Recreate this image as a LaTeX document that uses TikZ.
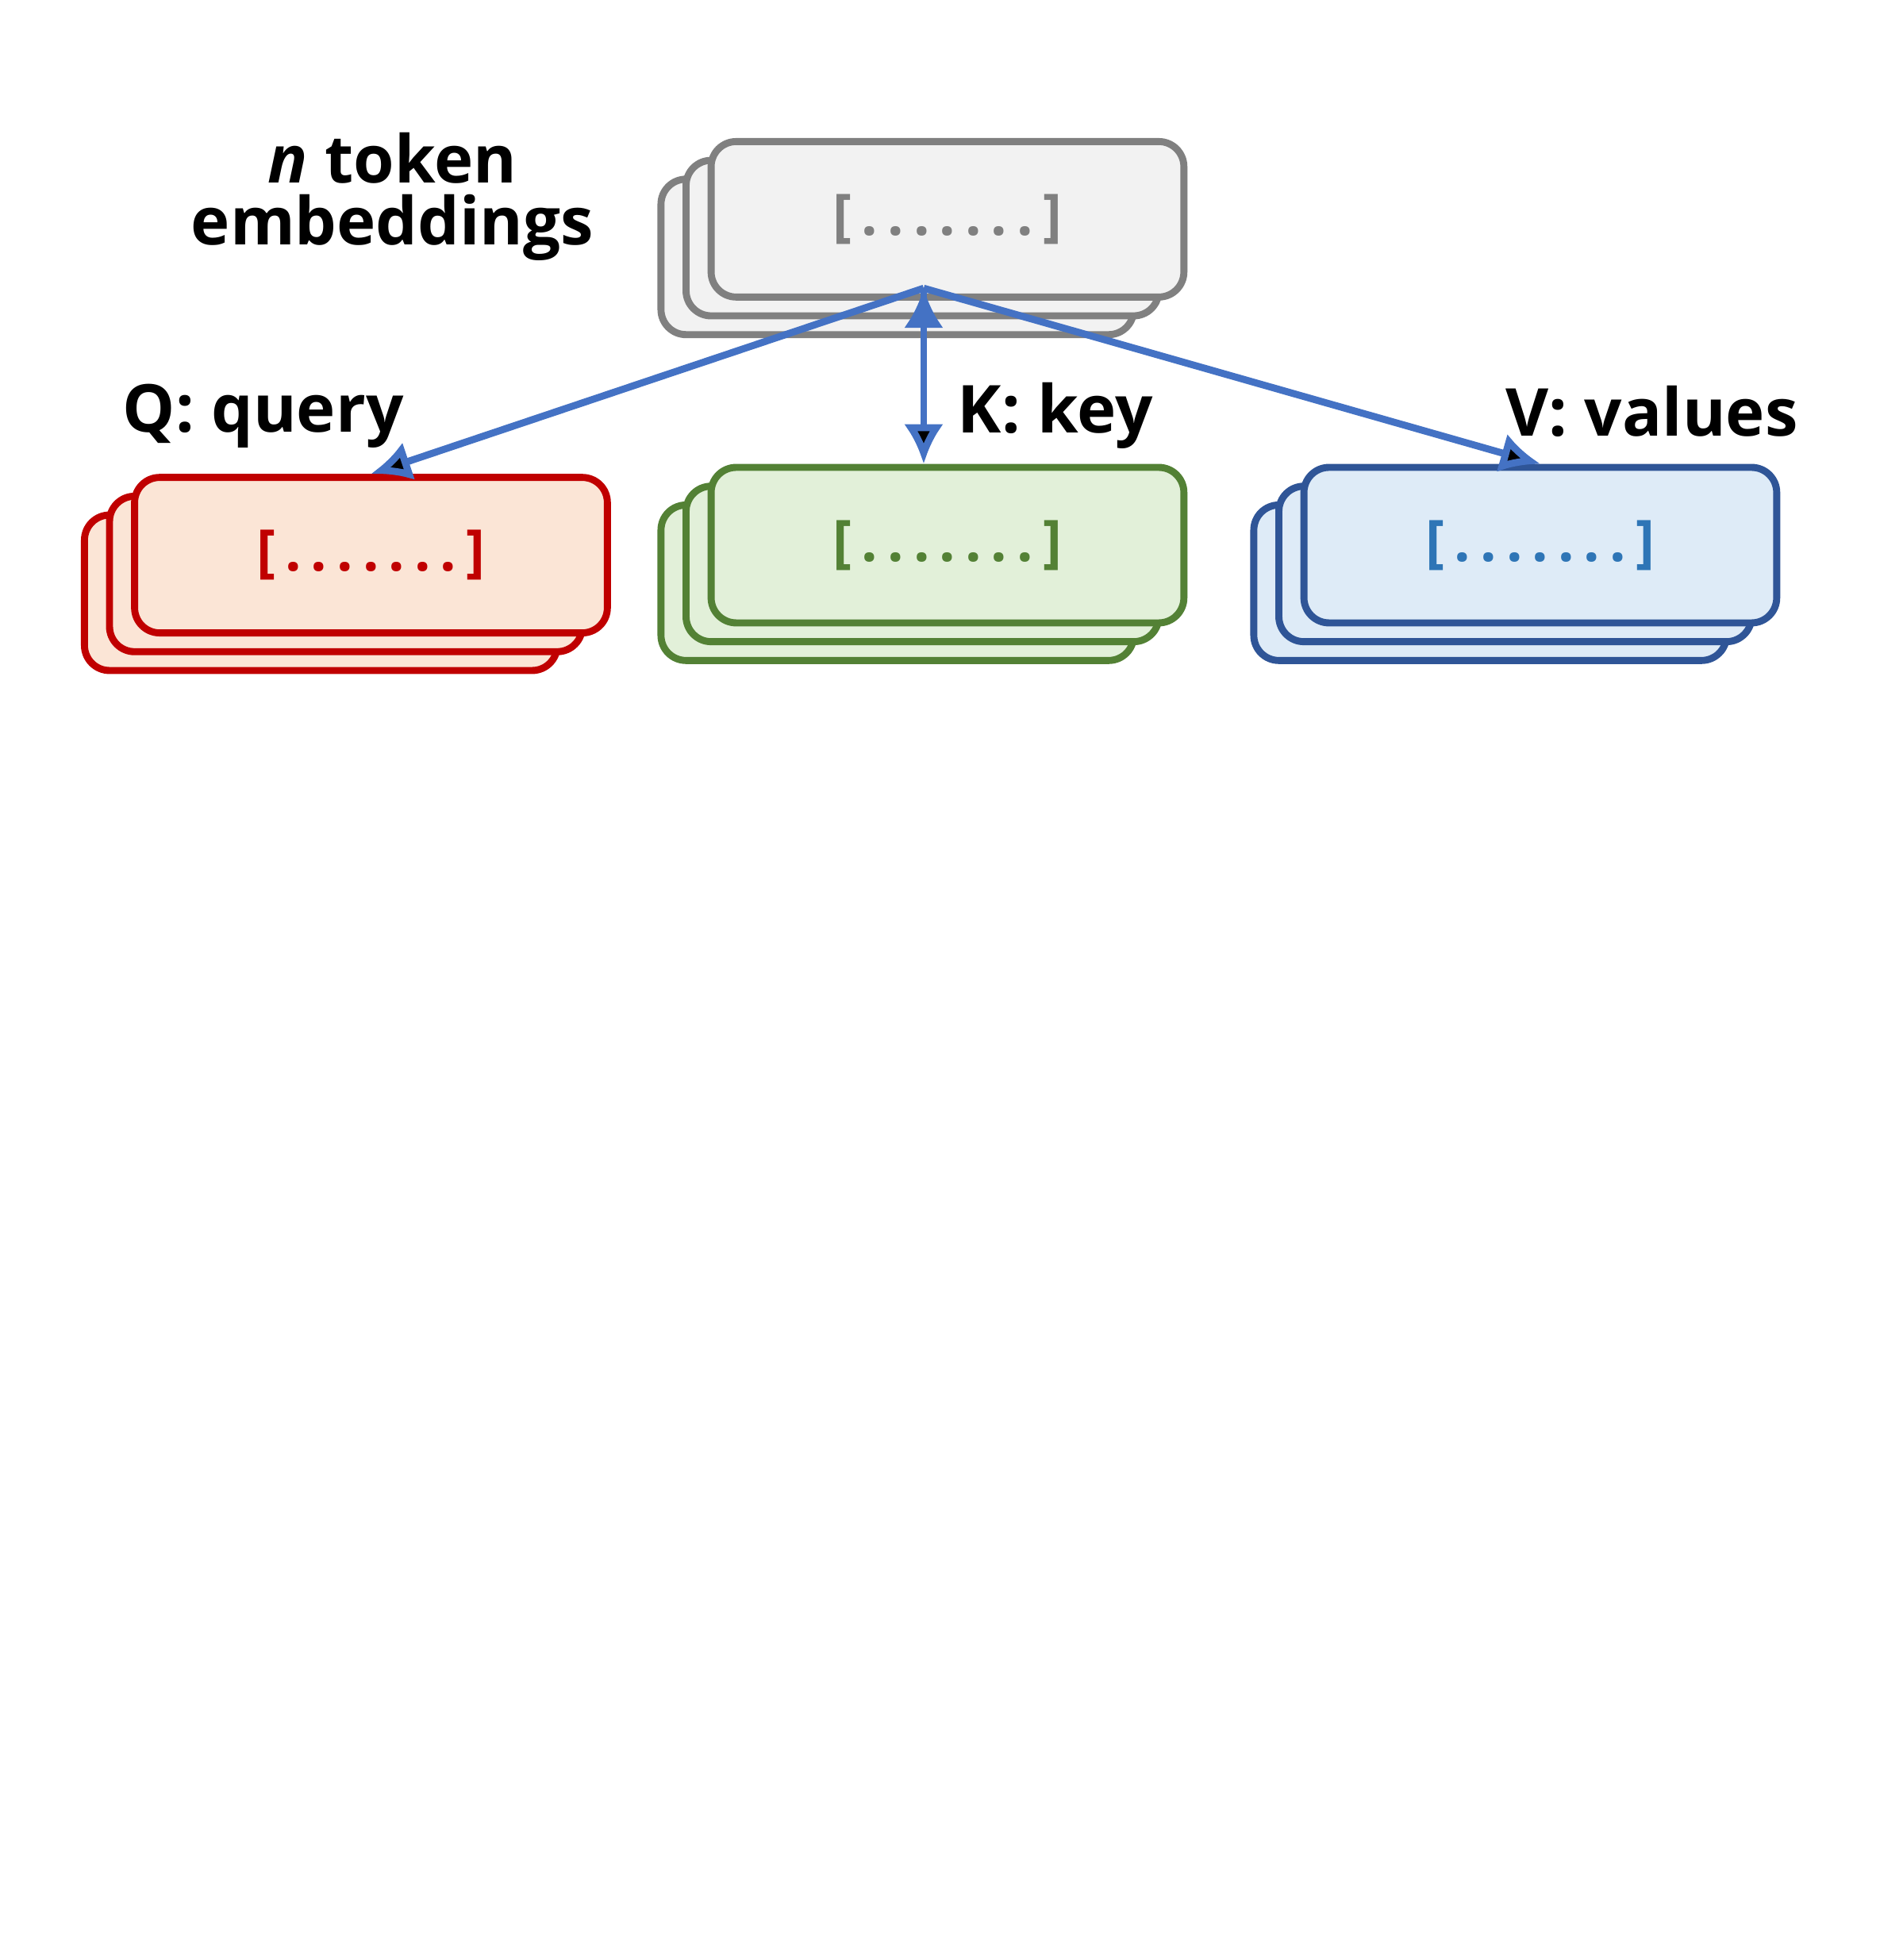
\documentclass[tikz,border=0pt]{standalone}
\usepackage{fontspec}
\setmainfont{Open Sans}
\usetikzlibrary{arrows.meta}
\definecolor{arrowblue}{HTML}{4472C4}
\definecolor{qdraw}{HTML}{C00000}\definecolor{qfill}{HTML}{FBE5D6}
\definecolor{kdraw}{HTML}{538135}\definecolor{kfill}{HTML}{E2F0D9}
\definecolor{vdraw}{HTML}{2F5597}\definecolor{vfill}{HTML}{DEEBF7}
\definecolor{vtext}{HTML}{2E75B6}
\definecolor{edraw}{HTML}{808080}\definecolor{efill}{HTML}{F2F2F2}
\begin{document}
\begin{tikzpicture}[x=0.01cm,y=-0.01cm,
        card/.style={draw=#1, line width=1.6pt, rounded corners=0.2cm, minimum width=3.77cm, minimum height=1.24cm},
        lbl/.style={font=\fontsize{15}{18}\selectfont\bfseries, align=center},
        vec/.style={font=\fontsize{13}{15}\selectfont\bfseries}]
    \useasboundingbox (0,0) rectangle (1500,1564);

    % embeddings
    \node[card=edraw, fill=efill] (e3) at (716,205) {};
    \node[card=edraw, fill=efill] (e2) at (736,190) {};
    \node[card=edraw, fill=efill, text=edraw, vec] (e) at (756,175) {[\,.\,.\,.\,.\,.\,.\,.\,]};
    \node[lbl] (elbl) at (313,157) {\textit{n} token\\[-4pt]embeddings};

    % query
    \node[card=qdraw, fill=qfill] (q3) at (256,473) {};
    \node[card=qdraw, fill=qfill] (q2) at (276,458) {};
    \node[card=qdraw, fill=qfill, text=qdraw, vec] (q) at (296,443) {[\,.\,.\,.\,.\,.\,.\,.\,]};
    \node[lbl] (qlbl) at (210,332) {Q: query};

    % key
    \node[card=kdraw, fill=kfill] (k3) at (716,465) {};
    \node[card=kdraw, fill=kfill] (k2) at (736,450) {};
    \node[card=kdraw, fill=kfill, text=kdraw, vec] (k) at (756,435) {[\,.\,.\,.\,.\,.\,.\,.\,]};
    \node[lbl] (klbl) at (842,332) {K: key};

    % values
    \node[card=vdraw, fill=vfill] (v3) at (1189,465) {};
    \node[card=vdraw, fill=vfill] (v2) at (1209,450) {};
    \node[card=vdraw, fill=vfill, text=vtext, vec] (v) at (1229,435) {[\,.\,.\,.\,.\,.\,.\,.\,]};
    \node[lbl] (vlbl) at (1318,328) {V: values};

    \coordinate (src) at (737,230);
    \path[draw=arrowblue, line width=1.6pt, -{Latex[length=9pt,width=9pt]}]
    (src) edge (q.north)
    (src) edge (k.north -| src)
    (src) edge (v.north);
\end{tikzpicture}
\end{document}
